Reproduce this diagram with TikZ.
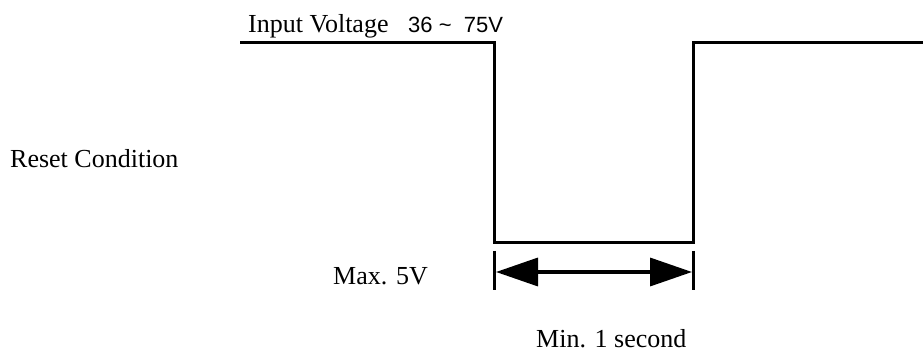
\documentclass[tikz,border=0pt]{standalone}
\usepackage{fontspec}
\setmainfont{Liberation Serif}
\newfontfamily\arialfont{Liberation Sans}
\usetikzlibrary{arrows.meta}
\begin{document}
\begin{tikzpicture}[x=1pt,y=-1pt,
  wave/.style={line width=3pt,line cap=rect,line join=miter},
  tick/.style={line width=3pt},
  label/.style={inner sep=0pt,anchor=base west,font=\fontsize{26}{30}\selectfont},
  dim/.style={line width=3.5pt,{Triangle[length=42pt,width=28pt]}-{Triangle[length=42pt,width=28pt]}}]
\useasboundingbox (0,0) rectangle (923,352);
% waveform corners
\coordinate (s) at (241,43);
\coordinate (a) at (494.5,43);
\coordinate (b) at (494.5,243);
\coordinate (c) at (693.5,243);
\coordinate (d) at (693.5,43);
\coordinate (e) at (923,43);
\draw[wave] (s) -- (a) -- (b) -- (c) -- (d) -- (e);
% dimension ticks
\coordinate (t1a) at (494.5,251);
\coordinate (t1b) at (494.5,290);
\coordinate (t2a) at (693.5,251);
\coordinate (t2b) at (693.5,290);
\draw[tick] (t1a) -- (t1b);
\draw[tick] (t2a) -- (t2b);
\coordinate (l) at (496,272);
\coordinate (r) at (692,272);
\draw[dim] (l) -- (r);
% labels
\node[label] (iv) at (248,33) {Input Voltage};
\node[inner sep=0pt,anchor=base west,font=\arialfont\fontsize{22}{26}\selectfont] (rng) at (408,33) {36~\textasciitilde~~75V};
\node[label] (rc) at (10,168) {Reset Condition};
\node[label] (mx) at (333,285) {Max. 5V};
\node[label] (mn) at (536,347) {Min. 1 second};
\end{tikzpicture}
\end{document}
